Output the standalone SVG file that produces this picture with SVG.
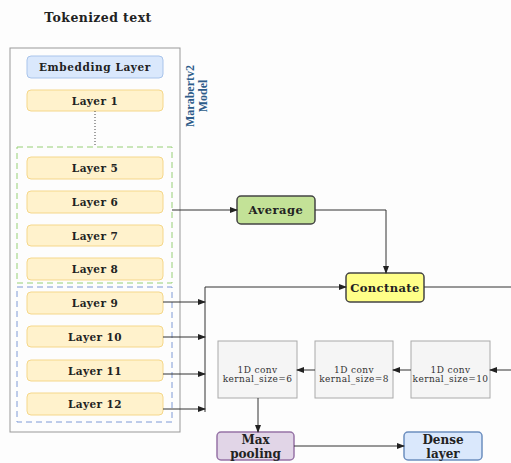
<svg xmlns="http://www.w3.org/2000/svg" width="511" height="463" viewBox="0 0 511 463">
<defs>
<marker id="ah" markerWidth="8" markerHeight="6" refX="7" refY="3" orient="auto" markerUnits="userSpaceOnUse"><path d="M0,0 L8,3 L0,6 z" fill="#222"/></marker>
<style>
.t{font-family:"DejaVu Serif","Liberation Serif",serif;font-weight:bold;fill:#222;text-anchor:middle;dominant-baseline:central}
.lt{font-size:10.5px;letter-spacing:0.4px}
.layer{fill:#fff2cc;stroke:#f5d78a;stroke-width:1}
.conv{fill:#f5f5f5;stroke:#aaa;stroke-width:1}
.c{fill:none;stroke:#333;stroke-width:1}
.cv{font-family:"DejaVu Serif","Liberation Serif",serif;font-size:9px;letter-spacing:0.4px;fill:#333;text-anchor:middle}
</style>
</defs>
<rect width="511" height="463" fill="#fdfdfd"/>
<text class="t" x="98" y="17" font-size="12.5" letter-spacing="0.4">Tokenized text</text>
<g id="model">
<rect x="10" y="48" width="170" height="384" fill="none" stroke="#999" stroke-width="1"/>
<text font-family="Liberation Serif,serif" font-weight="bold" font-size="12" fill="#2e5c8a" text-anchor="middle" transform="translate(197,96) rotate(-90)"><tspan x="0" y="-3">Marabertv2</tspan><tspan x="0" y="10">Model</tspan></text>
</g>
<g id="group-green"><rect x="17" y="147" width="155" height="136" fill="none" stroke="#97d077" stroke-dasharray="6,4"/></g>
<g id="group-blue"><rect x="17" y="287" width="155" height="135" fill="none" stroke="#7e9ad6" stroke-dasharray="6,4"/></g>
<g id="embedding"><rect x="27" y="56" width="136" height="22" rx="4" fill="#dae8fc" stroke="#a9c4eb"/><text class="t" x="95" y="67" font-size="10.5" letter-spacing="0.6">Embedding Layer</text></g>
<g id="layer1"><rect class="layer" x="27" y="90" width="136" height="21" rx="4"/><text class="t lt" x="95" y="100.5">Layer 1</text></g>
<g id="layer5"><rect class="layer" x="27" y="157" width="136" height="22" rx="4"/><text class="t lt" x="95" y="168">Layer 5</text></g>
<g id="layer6"><rect class="layer" x="27" y="191" width="136" height="22" rx="4"/><text class="t lt" x="95" y="202">Layer 6</text></g>
<g id="layer7"><rect class="layer" x="27" y="225" width="136" height="21" rx="4"/><text class="t lt" x="95" y="235.5">Layer 7</text></g>
<g id="layer8"><rect class="layer" x="27" y="258" width="136" height="22" rx="4"/><text class="t lt" x="95" y="269">Layer 8</text></g>
<g id="layer9"><rect class="layer" x="27" y="292" width="136" height="22" rx="4"/><text class="t lt" x="95" y="303">Layer 9</text></g>
<g id="layer10"><rect class="layer" x="27" y="326" width="136" height="21" rx="4"/><text class="t lt" x="95" y="336.5">Layer 10</text></g>
<g id="layer11"><rect class="layer" x="27" y="360" width="136" height="21" rx="4"/><text class="t lt" x="95" y="370.5">Layer 11</text></g>
<g id="layer12"><rect class="layer" x="27" y="393" width="136" height="22" rx="4"/><text class="t lt" x="95" y="404">Layer 12</text></g>
<g id="average"><rect x="237" y="196" width="78" height="28" rx="4" fill="#c3e297" stroke="#444" stroke-width="1.5"/><text class="t" x="276" y="210" font-size="11.5" letter-spacing="0.5">Average</text></g>
<g id="concatenate"><rect x="346" y="273" width="78" height="29" rx="4" fill="#ffff88" stroke="#444" stroke-width="1.5"/><text class="t" x="385" y="287.5" font-size="11.5" letter-spacing="0.4">Conctnate</text></g>
<g id="conv6"><rect class="conv" x="218" y="341" width="79" height="57"/><text class="cv" x="257.5" y="373">1D conv</text><text class="cv" x="257.5" y="382">kernal_size=6</text></g>
<g id="conv8"><rect class="conv" x="315" y="341" width="78" height="57"/><text class="cv" x="354" y="373">1D conv</text><text class="cv" x="354" y="382">kernal_size=8</text></g>
<g id="conv10"><rect class="conv" x="411" y="341" width="79" height="57"/><text class="cv" x="450.5" y="373" letter-spacing="0.2">1D conv</text><text class="cv" x="450.5" y="382" letter-spacing="0.2">kernal_size=10</text></g>
<g id="maxpool"><rect x="217" y="432" width="77" height="28" rx="4" fill="#e1d5e7" stroke="#9673a6" stroke-width="1.5"/><text class="t" x="255.5" y="439.5" font-size="12">Max</text><text class="t" x="255.5" y="453.5" font-size="12">pooling</text></g>
<g id="dense"><rect x="404" y="432" width="78" height="28" rx="4" fill="#dae8fc" stroke="#6c8ebf" stroke-width="1.5"/><text class="t" x="443" y="439.5" font-size="12">Dense</text><text class="t" x="443" y="453.5" font-size="12">layer</text></g>
<g id="connectors">
<line x1="95" y1="111" x2="95" y2="147" stroke="#444" stroke-dasharray="1,2"/>
<path class="c" d="M172,210 H237" marker-end="url(#ah)"/>
<path class="c" d="M315,210 H386 V273" marker-end="url(#ah)"/>
<path class="c" d="M205,412 V287 H346" marker-end="url(#ah)"/>
<path class="c" d="M163,302 H205" marker-end="url(#ah)"/>
<path class="c" d="M163,337 H205" marker-end="url(#ah)"/>
<path class="c" d="M163,374 H205" marker-end="url(#ah)"/>
<path class="c" d="M163,409 H205" marker-end="url(#ah)"/>
<path class="c" d="M424,287 H511"/>
<path class="c" d="M511,370 H490" marker-end="url(#ah)"/>
<path class="c" d="M411,370 H393" marker-end="url(#ah)"/>
<path class="c" d="M315,370 H297" marker-end="url(#ah)"/>
<path class="c" d="M258,398 V432" marker-end="url(#ah)"/>
<path class="c" d="M294,446 H404" marker-end="url(#ah)"/>
</g>
</svg>
